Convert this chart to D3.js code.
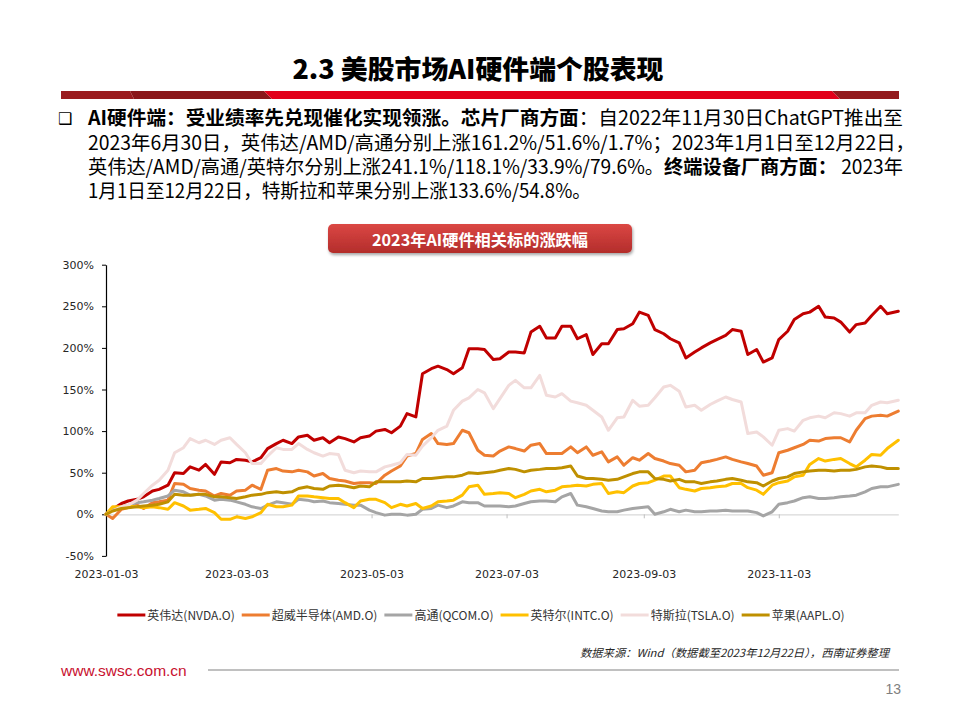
<!DOCTYPE html>
<html><head><meta charset="utf-8">
<script src="https://cdn.jsdelivr.net/npm/d3@7"></script>
<style>
html,body{margin:0;padding:0;background:#fff;}
svg{display:block;}
</style></head><body>
<svg id="chart" width="960" height="720"></svg>
<script>
// ---------------- data ----------------
const seriesNames = ["英伟达(NVDA.O)", "超威半导体(AMD.O)", "高通(QCOM.O)", "英特尔(INTC.O)", "特斯拉(TSLA.O)", "苹果(AAPL.O)"];
const seriesColors = ["#C00000", "#ED7D31", "#A5A5A5", "#FFC000", "#F2DCDB", "#BF9000"];

const dates = [
"2023-01-03","2023-01-06","2023-01-10","2023-01-13","2023-01-17","2023-01-20","2023-01-24","2023-01-27","2023-01-31","2023-02-03",
"2023-02-07","2023-02-10","2023-02-14","2023-02-17","2023-02-21","2023-02-24","2023-02-28","2023-03-03","2023-03-07","2023-03-10",
"2023-03-14","2023-03-17","2023-03-21","2023-03-24","2023-03-28","2023-03-31","2023-04-04","2023-04-07","2023-04-11","2023-04-14",
"2023-04-18","2023-04-21","2023-04-25","2023-04-28","2023-05-02","2023-05-05","2023-05-09","2023-05-12","2023-05-16","2023-05-19",
"2023-05-23","2023-05-26","2023-05-30","2023-06-02","2023-06-06","2023-06-09","2023-06-13","2023-06-16","2023-06-20","2023-06-23",
"2023-06-27","2023-06-30","2023-07-04","2023-07-07","2023-07-11","2023-07-14","2023-07-18","2023-07-21","2023-07-25","2023-07-28",
"2023-08-01","2023-08-04","2023-08-08","2023-08-11","2023-08-15","2023-08-18","2023-08-22","2023-08-25","2023-08-29","2023-09-01",
"2023-09-05","2023-09-08","2023-09-12","2023-09-15","2023-09-19","2023-09-22","2023-09-26","2023-09-29","2023-10-03","2023-10-06",
"2023-10-10","2023-10-13","2023-10-17","2023-10-20","2023-10-24","2023-10-27","2023-10-31","2023-11-03","2023-11-07","2023-11-10",
"2023-11-14","2023-11-17","2023-11-21","2023-11-24","2023-11-28","2023-12-01","2023-12-05","2023-12-08","2023-12-12","2023-12-15",
"2023-12-19","2023-12-22","2023-12-27"];

// cumulative change since start of 2023, %
const nvda = [
0,6,13,16,18,21,28,30,35,50,
49,57,53,60,48,63,62,66,65,63,
68,79,85,89,85,93,95,89,92,86,
93,91,87,92,94,100,102,98,106,121,
117,169,175,178,174,169,176,199,199,198,
186,187,195,195,194,219,226,212,212,226,
226,211,216,192,205,205,222,223,229,243,
239,222,217,211,206,188,195,200,206,210,
215,222,220,192,198,183,188,210,220,234,
241,243,250,237,236,231,219,228,230,239,
250,241,244];
const amd = [
0,-5,6,8,11,7,14,15,17,37,
36,31,29,28,22,25,23,28,29,35,
30,53,55,52,51,53,51,46,49,43,
41,40,37,38,38,37,47,52,58,70,
73,90,97,85,84,85,101,98,77,71,
70,76,81,79,76,83,85,73,73,73,
81,74,81,71,75,63,69,59,68,65,
73,67,64,61,59,51,53,62,64,66,
69,66,63,61,58,47,50,74,77,80,
84,89,88,91,92,92,87,101,115,118,
119,118,124];
const qcom = [
0,6,9,11,14,15,17,19,22,29,
27,23,24,22,17,18,17,15,12,9,
7,11,15,14,12,18,17,15,16,14,
13,12,11,11,5,2,-1,0,0,-1,
0,6,7,11,8,10,15,14,14,10,
10,10,9,10,13,15,16,16,15,21,
25,11,9,7,4,3,3,5,7,8,
9,0,3,6,3,5,3,3,4,4,
5,4,4,4,2,-2,3,12,14,16,
20,21,19,19,20,21,22,23,27,31,
33,33,36];
const intc = [
0,9,9,10,9,8,9,8,6,14,
10,5,6,7,2,-6,-6,-3,-5,-3,
2,12,9,9,11,22,22,21,20,19,
19,14,8,16,18,18,14,8,12,10,
13,7,10,15,16,17,23,33,35,24,
25,26,25,20,24,28,30,27,29,33,
34,35,34,36,37,25,27,26,34,37,
38,41,46,46,32,30,28,31,32,33,
34,37,37,32,29,24,35,38,40,45,
47,60,67,64,66,67,61,57,65,72,
71,79,89];
const tsla = [
0,4,9,11,17,25,35,41,53,74,
80,91,86,89,84,89,92,84,74,61,
61,70,80,78,78,85,78,74,70,73,
72,53,50,52,51,51,57,59,62,72,
71,82,92,101,106,125,136,140,150,146,
127,139,155,161,152,152,167,143,141,145,
136,134,131,125,117,101,116,117,137,130,
131,140,153,155,148,129,131,125,132,136,
141,138,135,97,99,93,83,101,103,100,
113,116,118,116,122,121,118,122,122,131,
135,134,137];
const aapl = [
0,4,7,8,9,10,11,12,15,24,
23,23,24,24,21,21,20,19,21,23,
24,26,27,26,27,31,33,31,30,34,
35,34,32,34,33,39,39,39,39,40,
39,43,43,44,45,45,47,50,49,50,
51,53,55,54,51,53,54,55,55,56,
58,46,43,43,42,41,42,45,49,51,
51,43,42,40,42,39,39,37,39,40,
42,43,41,39,38,34,40,43,45,49,
51,52,53,53,52,53,53,54,57,58,
57,55,55];

const seriesValues = [nvda, amd, qcom, intc, tsla, aapl];
const yTicks = [-50, 0, 50, 100, 150, 200, 250, 300];
const xTickLabels = ["2023-01-03", "2023-03-03", "2023-05-03", "2023-07-03", "2023-09-03", "2023-11-03"];

const pageTitle = "2.3 美股市场AI硬件端个股表现";
const chartTitle = "2023年AI硬件相关标的涨跌幅";
const bulletLines = [
  [["AI硬件端：受业绩率先兑现催化实现领涨。芯片厂商方面", true], ["：自2022年11月30日ChatGPT推出至", false]],
  [["2023年6月30日，英伟达/AMD/高通分别上涨161.2%/51.6%/1.7%；2023年1月1日至12月22日，", false]],
  [["英伟达/AMD/高通/英特尔分别上涨241.1%/118.1%/33.9%/79.6%。", false], ["终端设备厂商方面：", true], [" 2023年", false]],
  [["1月1日至12月22日，特斯拉和苹果分别上涨133.6%/54.8%。", false]]
];
const sourceText = "数据来源：Wind（数据截至2023年12月22日），西南证券整理";
const siteText = "www.swsc.com.cn";
const pageNum = "13";

// ---------------- drawing ----------------
const svg = d3.select("#chart");
const CJK = "'Noto Sans CJK SC','Noto Sans',sans-serif";
const defs = svg.append("defs");

// header
svg.append("text").attr("x", 478).attr("y", 79).attr("text-anchor", "middle")
  .attr("font-family", CJK).attr("font-weight", 900).attr("font-size", 26)
  .attr("textLength", 371).attr("lengthAdjust", "spacingAndGlyphs")
  .attr("fill", "#000").text(pageTitle);

const barY0 = 91, barY1 = 99;
const barParts = [
  {pts: [[61, barY0], [130, barY0], [134, barY1], [61, barY1]], c: "#9A1B1E"},
  {pts: [[130, barY0], [264, barY0], [272, barY1], [134, barY1]], c: "#8A171A"},
  {pts: [[264, barY0], [832, barY0], [840, barY1], [272, barY1]], c: "#E2001A"},
  {pts: [[832, barY0], [899, barY0], [899, barY1], [840, barY1]], c: "#931A1D"}
];
svg.append("g").selectAll("polygon").data(barParts).join("polygon")
  .attr("points", d => d.pts.map(p => p.join(",")).join(" "))
  .attr("fill", d => d.c);

// bullet text
svg.append("text").attr("x", 58).attr("y", 124).attr("font-family", "'DejaVu Sans'")
  .attr("font-size", 16).attr("fill", "#000").text("❑");
const lineBase = [125, 149.5, 173.5, 198];
const lineLen = [815, 827, 815, null];
bulletLines.forEach((segs, i) => {
  const t = svg.append("text").attr("x", 88).attr("y", lineBase[i])
    .attr("font-family", CJK).attr("font-size", 19.5).attr("fill", "#000");
  if (lineLen[i]) t.attr("textLength", lineLen[i]).attr("lengthAdjust", "spacingAndGlyphs");
  segs.forEach(s => t.append("tspan").attr("font-weight", s[1] ? 700 : 400).text(s[0]));
  if (!lineLen[i]) {
    const w = t.node().getComputedTextLength();
    t.attr("textLength", w * 0.955).attr("lengthAdjust", "spacingAndGlyphs");
  }
});

// chart title button
const grad = defs.append("linearGradient").attr("id", "btnGrad").attr("x1", 0).attr("y1", 0).attr("x2", 0).attr("y2", 1);
grad.append("stop").attr("offset", "0%").attr("stop-color", "#DB4744");
grad.append("stop").attr("offset", "100%").attr("stop-color", "#B32D2B");
const shadow = defs.append("filter").attr("id", "btnShadow").attr("x", "-10%").attr("y", "-30%").attr("width", "120%").attr("height", "180%");
shadow.append("feDropShadow").attr("dx", 1).attr("dy", 2).attr("stdDeviation", 1.6).attr("flood-color", "#000").attr("flood-opacity", 0.35);
svg.append("rect").attr("x", 328).attr("y", 224).attr("width", 304).attr("height", 29).attr("rx", 5)
  .attr("fill", "url(#btnGrad)").attr("filter", "url(#btnShadow)");
svg.append("text").attr("x", 480).attr("y", 245.5).attr("text-anchor", "middle")
  .attr("font-family", CJK).attr("font-weight", 700).attr("font-size", 16)
  .attr("textLength", 216).attr("lengthAdjust", "spacingAndGlyphs")
  .attr("fill", "#fff").text(chartTitle);

// scales
const parse = d3.timeParse("%Y-%m-%d");
const dateObjs = dates.map(parse);
const x = d3.scaleTime().domain([dateObjs[0], dateObjs[dateObjs.length - 1]]).range([106, 898.3]);
const y = d3.scaleLinear().domain([-50, 300]).range([555.9, 264.7]);

// zero-line axis with ticks
const xTickDates = xTickLabels.map(parse);
const gx0 = svg.append("g").attr("transform", `translate(0,${y(0)})`)
  .call(d3.axisBottom(x).tickValues(xTickDates).tickSize(4).tickSizeOuter(0).tickFormat(""));
gx0.select(".domain").attr("stroke", "#D9D9D9").attr("stroke-width", 1.2);
gx0.selectAll(".tick line").attr("stroke", "#BFBFBF");

// labels axis at bottom
const gx1 = svg.append("g").attr("transform", `translate(0,562)`)
  .call(d3.axisBottom(x).tickValues(xTickDates).tickSize(0).tickPadding(8).tickFormat(d3.timeFormat("%Y-%m-%d")));
gx1.select(".domain").remove();
gx1.selectAll("text").attr("font-family", "'DejaVu Sans'").attr("font-size", 11).attr("fill", "#262626");

// y axis
const gy = svg.append("g").attr("transform", "translate(106,0)")
  .call(d3.axisLeft(y).tickValues(yTicks).tickSize(4).tickSizeOuter(0).tickPadding(8).tickFormat(d => d + "%"));
gy.select(".domain").attr("stroke", "#000").attr("stroke-width", 1.2);
gy.selectAll(".tick line").attr("stroke", "#000");
gy.selectAll("text").attr("font-family", "'DejaVu Sans'").attr("font-size", 11).attr("fill", "#262626");

// lines
const line = d3.line().x((d, i) => x(dateObjs[i])).y(d => y(d)).curve(d3.curveLinear);
svg.append("g").selectAll("path").data(seriesValues).join("path")
  .attr("d", d => line(d))
  .attr("fill", "none")
  .attr("stroke", (d, i) => seriesColors[i])
  .attr("stroke-width", 3)
  .attr("stroke-linejoin", "round")
  .attr("stroke-linecap", "round");

// legend
const legend = svg.append("g");
let cx = 0;
const legY = 615;
seriesNames.forEach((name, i) => {
  const g = legend.append("g").attr("transform", `translate(${cx},0)`);
  g.append("line").attr("x1", 0).attr("x2", 28).attr("y1", legY).attr("y2", legY)
    .attr("stroke", seriesColors[i]).attr("stroke-width", 3);
  const t = g.append("text").attr("x", 30).attr("y", legY + 4.5)
    .attr("font-family", CJK).attr("font-size", 12).attr("fill", "#333").text(name);
  cx += 30 + t.node().getComputedTextLength() + 7;
});
const legW = cx - 7;
legend.attr("transform", `translate(${(109 + 853) / 2 - legW / 2},0)`);

// source
svg.append("text").attr("x", 889).attr("y", 657).attr("text-anchor", "end")
  .attr("font-family", CJK).attr("font-style", "italic").attr("font-size", 11)
  .attr("textLength", 309).attr("lengthAdjust", "spacingAndGlyphs")
  .attr("fill", "#262626").text(sourceText);

// footer
svg.append("text").attr("x", 61).attr("y", 675.5).attr("font-family", "'Liberation Sans',Arial,sans-serif")
  .attr("font-size", 15.5).attr("fill", "#C8102E").text(siteText);
svg.append("line").attr("x1", 208).attr("x2", 899).attr("y1", 670).attr("y2", 670)
  .attr("stroke", "#C0C0C0").attr("stroke-width", 2);
svg.append("text").attr("x", 901).attr("y", 694).attr("text-anchor", "end")
  .attr("font-family", "'Liberation Sans Narrow','Liberation Sans',sans-serif")
  .attr("font-size", 14).attr("fill", "#7F7F7F").text(pageNum);
</script>
</body></html>
